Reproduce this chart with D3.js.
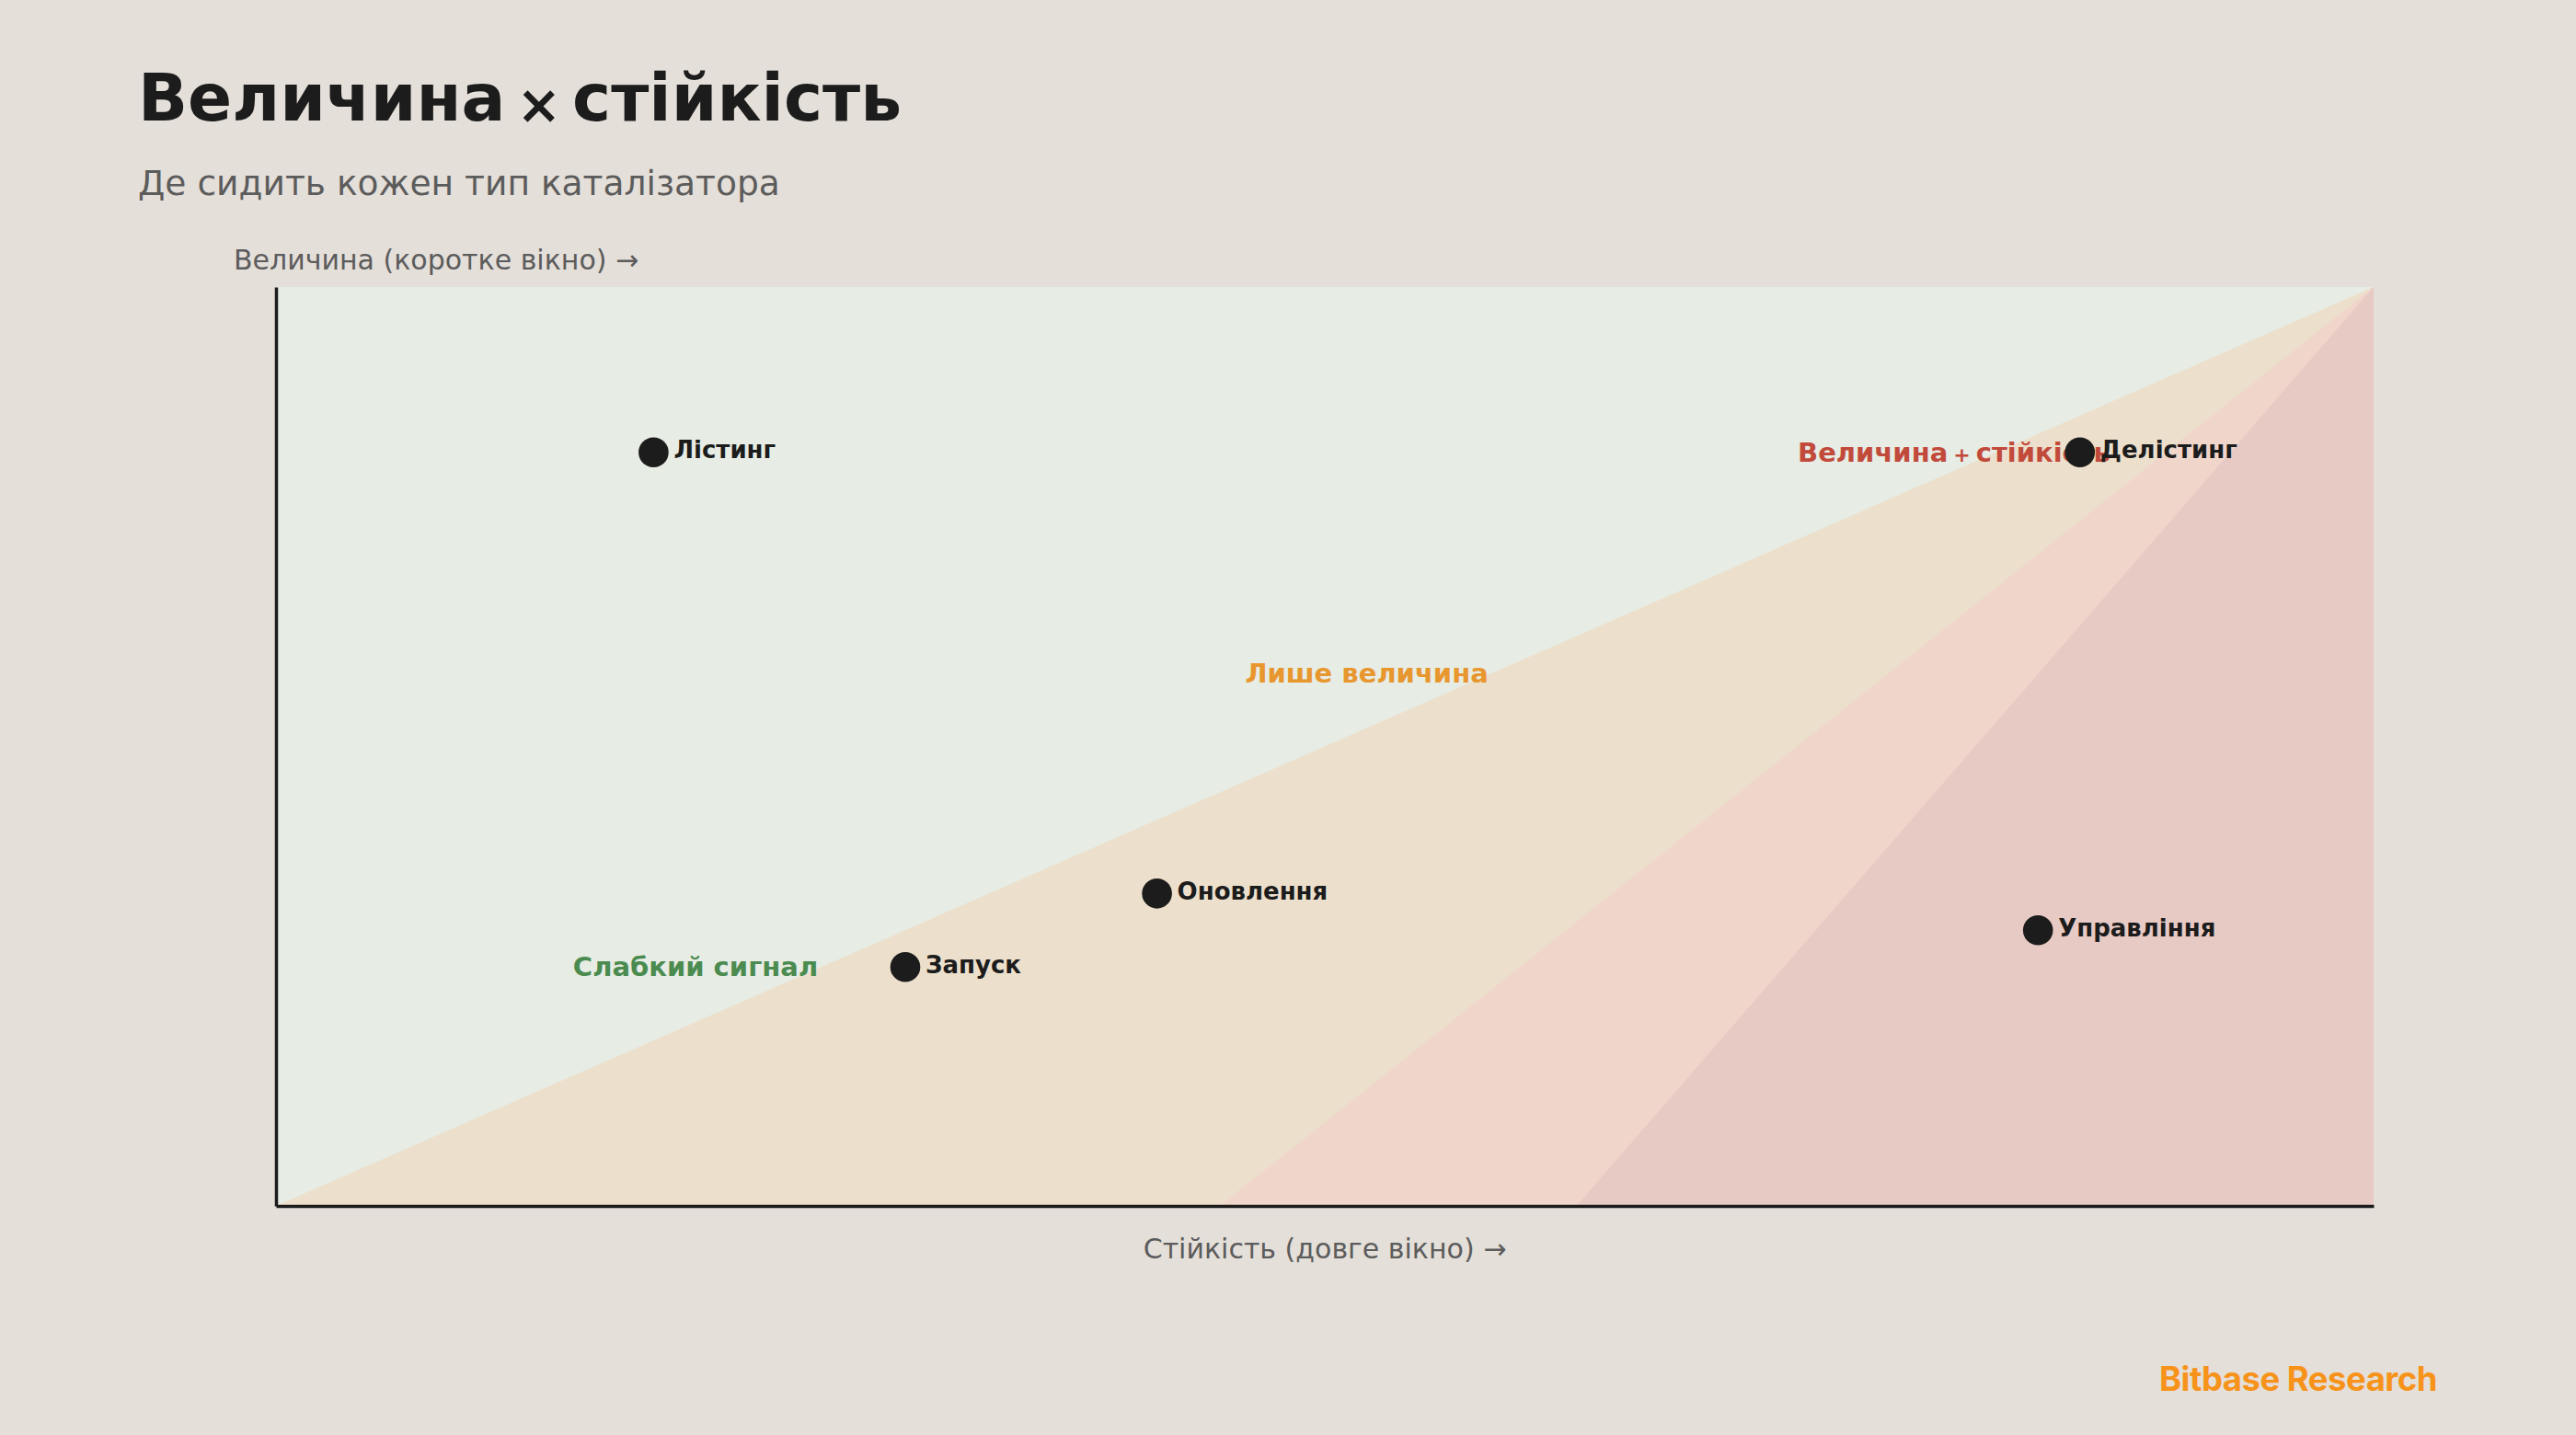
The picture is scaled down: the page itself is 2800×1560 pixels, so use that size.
<!DOCTYPE html>
<html>
<head>
<meta charset="utf-8">
<script src="https://cdn.jsdelivr.net/npm/d3@7"></script>
<style>
  html, body { margin: 0; padding: 0; background: #e4dfd9; }
  svg { display: block; }
</style>
</head>
<body>
<svg id="chart" width="2800" height="1560"></svg>
<script>
// ---- data ----
const pointNames = ["Лістинг", "Делістинг", "Оновлення", "Запуск", "Управління"];
const pointX = [0.18, 0.86, 0.42, 0.30, 0.84];   // стійкість
const pointY = [0.82, 0.82, 0.34, 0.26, 0.30];   // величина

const zoneNames = ["base", "magnitude", "both", "both-strong"];
const zoneStartX = [null, 0.0, 0.45, 0.62];      // bottom edge start of wedge to (1,1)
const zoneColors = ["#e7ece4", "#ecdfcb", "#f0d5cb", "#e8cac4"];

// each label split into parts: [before, symbol, after]
const zoneLabels = [["Величина", "+", "стійкість"], ["Лише величина"], ["Слабкий сигнал"]];
const zoneLabelX = [0.80, 0.52, 0.20];
const zoneLabelY = [0.82, 0.58, 0.26];
const zoneLabelColors = ["#c24a3b", "#e8962e", "#4b8b50"];

const titleParts = ["Величина", "×", "стійкість"];
const subtitleText = "Де сидить кожен тип каталізатора";
const yLabel = "Величина (коротке вікно) →";
const xLabel = "Стійкість (довге вікно) →";
const brand = "Bitbase Research";

// ---- layout ----
const svg = d3.select("#chart");
const plot = { left: 300, right: 2580, top: 312, bottom: 1311 };
const x = d3.scaleLinear().domain([0, 1]).range([plot.left, plot.right]);
const y = d3.scaleLinear().domain([0, 1]).range([plot.bottom, plot.top]);
const font = "'DejaVu Sans', sans-serif";

// background
svg.append("rect").attr("width", 2800).attr("height", 1560).attr("fill", "#e4dfd9");

// zones
const line = d3.line().x(d => x(d[0])).y(d => y(d[1]));
zoneNames.forEach((name, i) => {
  const pts = zoneStartX[i] === null
    ? [[0, 0], [0, 1], [1, 1], [1, 0]]
    : [[zoneStartX[i], 0], [1, 1], [1, 0]];
  svg.append("path")
    .attr("d", line(pts) + "Z")
    .attr("fill", zoneColors[i]);
});

// axes (lines only, no ticks)
const xAxis = d3.axisBottom(x).tickValues([]).tickSizeOuter(0);
const yAxis = d3.axisLeft(y).tickValues([]).tickSizeOuter(0);
svg.append("g").attr("transform", `translate(0,${plot.bottom})`).call(xAxis)
  .select(".domain").attr("stroke", "#1c1c1c").attr("stroke-width", 3.5);
svg.append("g").attr("transform", `translate(${plot.left},0)`).call(yAxis)
  .select(".domain").attr("stroke", "#1c1c1c").attr("stroke-width", 3.5);

// helper: text with a smaller middle symbol and tight gaps
function partsText(sel, parts, symSize, gap, symDy) {
  if (parts.length === 1) { sel.text(parts[0]); return; }
  sel.append("tspan").text(parts[0]);
  sel.append("tspan").attr("font-size", symSize).attr("dx", gap).attr("dy", symDy).text(parts[1]);
  sel.append("tspan").attr("dx", gap).attr("dy", -symDy).text(parts[2]);
}

// zone labels
zoneLabels.forEach((parts, i) => {
  const t = svg.append("text")
    .attr("x", x(zoneLabelX[i]))
    .attr("y", y(zoneLabelY[i]) + 10)
    .attr("text-anchor", "middle")
    .attr("font-family", font)
    .attr("font-weight", "bold")
    .attr("font-size", 29)
    .attr("fill", zoneLabelColors[i]);
  partsText(t, parts, 22, 6, 0);
});

// points
const pts = pointNames.map((n, i) => ({ name: n, x: pointX[i], y: pointY[i] }));
const g = svg.append("g");
g.selectAll("circle").data(pts).join("circle")
  .attr("cx", d => x(d.x))
  .attr("cy", d => y(d.y))
  .attr("r", 16.3)
  .attr("fill", "#1c1c1c");
g.selectAll("text").data(pts).join("text")
  .attr("x", d => x(d.x) + 22)
  .attr("y", d => y(d.y))
  .attr("dy", "0.25em")
  .attr("font-family", font)
  .attr("font-weight", "bold")
  .attr("font-size", 26)
  .attr("fill", "#1c1c1c")
  .text(d => d.name);

// titles
const title = svg.append("text").attr("x", 150).attr("y", 131)
  .attr("font-family", font).attr("font-weight", "bold").attr("font-size", 71)
  .attr("fill", "#1c1c1c");
partsText(title, titleParts, 58, 12, 3);

svg.append("text").attr("x", 150).attr("y", 212)
  .attr("font-family", font).attr("font-size", 37.6)
  .attr("fill", "#5c5c5c").text(subtitleText);

// axis labels
svg.append("text").attr("x", 254).attr("y", 293)
  .attr("font-family", font).attr("font-size", 30)
  .attr("fill", "#5c5c5c").text(yLabel);
svg.append("text").attr("x", (plot.left + plot.right) / 2).attr("y", 1368)
  .attr("text-anchor", "middle")
  .attr("font-family", font).attr("font-size", 30)
  .attr("fill", "#5c5c5c").text(xLabel);

// brand
svg.append("text").attr("x", 2649).attr("y", 1512)
  .attr("text-anchor", "end")
  .attr("font-family", "Inter, 'Open Sans', sans-serif").attr("font-weight", 700)
  .attr("font-size", 36.5)
  .attr("letter-spacing", -0.5)
  .attr("fill", "#f7931a").text(brand);
</script>
</body>
</html>
